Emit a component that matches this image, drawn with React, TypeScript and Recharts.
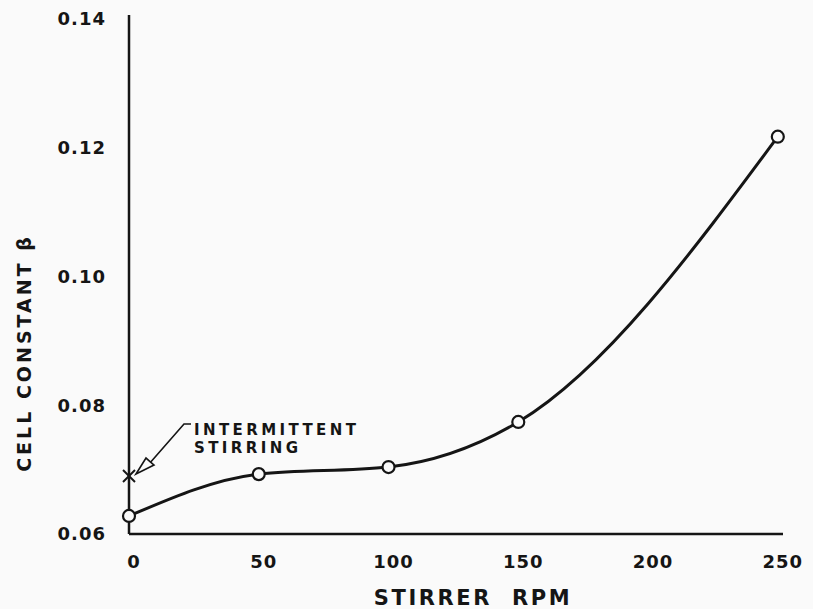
import { ComposedChart, Line, Scatter, XAxis, YAxis } from "recharts";

const INK = "#151515";
const PAPER = "#fafafa";
const FONT = "'DejaVu Sans', sans-serif";

// stirrer speed (rpm) vs cell constant
const rpm = [0, 50, 100, 150, 250];
const beta = [0.0628, 0.0693, 0.0704, 0.0774, 0.1217];

// single reading taken with intermittent stirring
const stirRpm = [0];
const stirBeta = [0.069];

const xTicks = [0, 50, 100, 150, 200, 250];
const yTicks = [0.06, 0.08, 0.1, 0.12, 0.14];
const yTickLabels = ["0.06", "0.08", "0.10", "0.12", "0.14"];

const data = rpm.map((r, i) => ({ rpm: r, beta: beta[i] }));
const stirData = stirRpm.map((r, i) => ({ rpm: r, beta: stirBeta[i] }));

function HollowDot(props: any) {
  const { cx, cy } = props;
  if (cx == null || cy == null) return null;
  return <circle cx={cx} cy={cy} r={6} fill={PAPER} stroke={INK} strokeWidth={2.2} />;
}

function CrossWithNote(props: any) {
  const { cx, cy } = props;
  if (cx == null || cy == null) return null;
  const s = 6;
  return (
    <g>
      <line x1={cx - s} y1={cy - s} x2={cx + s} y2={cy + s} stroke={INK} strokeWidth={2} />
      <line x1={cx - s} y1={cy + s} x2={cx + s} y2={cy - s} stroke={INK} strokeWidth={2} />
      {/* arrow to the cross */}
      <polyline
        points={`${cx + 62},${cy - 52} ${cx + 55},${cy - 52} ${cx + 20},${cy - 12}`}
        fill="none"
        stroke={INK}
        strokeWidth={1.6}
      />
      <polygon
        points={`${cx + 7},${cy - 2} ${cx + 17},${cy - 18} ${cx + 25},${cy - 11}`}
        fill={PAPER}
        stroke={INK}
        strokeWidth={1.6}
      />
      <text x={cx + 65} y={cy - 41} fontFamily={FONT} fontWeight="bold" fontSize={15} letterSpacing={3.4} fill={INK}>
        INTERMITTENT
      </text>
      <text x={cx + 65} y={cy - 23} fontFamily={FONT} fontWeight="bold" fontSize={15} letterSpacing={3.4} fill={INK}>
        STIRRING
      </text>
    </g>
  );
}

export default function App() {
  return (
    <div style={{ position: "absolute", left: 0, top: 0, width: 813, height: 609, background: PAPER }}>
      <ComposedChart width={813} height={609} data={data} margin={{ top: 15, right: 30, left: 0, bottom: 0 }}>
        <XAxis
          dataKey="rpm"
          type="number"
          domain={[0, 252]}
          ticks={xTicks}
          height={75}
          tickLine={false}
          tickMargin={15}
          axisLine={{ stroke: INK, strokeWidth: 2.5 }}
          tick={{ fill: INK, fontSize: 18, fontWeight: "bold", fontFamily: FONT, dx: 5, letterSpacing: 1 }}
          label={{
            content: () => (
              <text x={473} y={605} textAnchor="middle" fontFamily={FONT} fontWeight="bold" fontSize={21} letterSpacing={2.6} wordSpacing={10} fill={INK}>
                STIRRER RPM
              </text>
            ),
          }}
        />
        <YAxis
          type="number"
          domain={[0.06, 0.1406]}
          ticks={yTicks}
          width={129}
          tickLine={false}
          tickMargin={17}
          axisLine={{ stroke: INK, strokeWidth: 2.5 }}
          tickFormatter={(v: number) => yTickLabels[yTicks.indexOf(v)] ?? String(v)}
          tick={{ fill: INK, fontSize: 18, fontWeight: "bold", fontFamily: FONT, letterSpacing: 1 }}
          label={{
            content: () => (
              <text
                x={31}
                y={353}
                transform="rotate(-90 31 353)"
                textAnchor="middle"
                fontFamily={FONT}
                fontWeight="bold"
                fontSize={19}
                letterSpacing={3}
                fill={INK}
              >
                CELL CONSTANT β
              </text>
            ),
          }}
        />
        <Line
          dataKey="beta"
          type="monotone"
          stroke={INK}
          strokeWidth={3}
          dot={<HollowDot />}
          activeDot={false}
          isAnimationActive={false}
        />
        <Scatter data={stirData} dataKey="beta" shape={<CrossWithNote />} isAnimationActive={false} />
      </ComposedChart>
    </div>
  );
}
